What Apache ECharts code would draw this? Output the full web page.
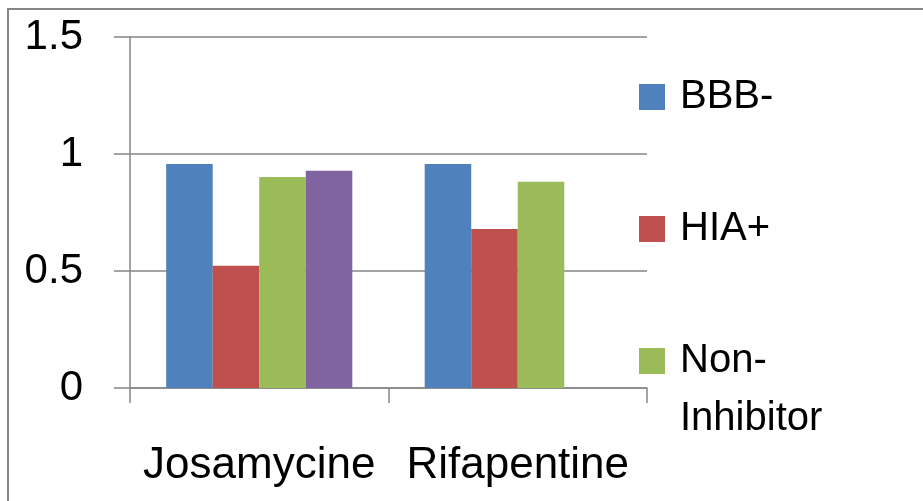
<!DOCTYPE html>
<html>
<head>
<meta charset="utf-8">
<script src="https://cdn.jsdelivr.net/npm/echarts@6/dist/echarts.min.js"></script>
<style>
  html, body { margin: 0; padding: 0; background: #fff; }
  #chart { width: 923px; height: 501px; }
</style>
</head>
<body>
<div id="chart"></div>
<script>
const categories = ['Josamycine', 'Rifapentine'];
const bbbMinus = [0.957, 0.957];
const hiaPlus = [0.522, 0.68];
const nonInhibitor = [0.902, 0.881];
const fourthSeries = [0.928, '-'];
const yTicks = { min: 0, max: 1.5, step: 0.5 };

const axisGrey = '#868686';
const font = 'Liberation Sans, Arial, sans-serif';

const chart = echarts.init(document.getElementById('chart'));

// one legend block per entry so they can be spaced like the original
function legendBlock(name, top, itemHeight, icon) {
  return {
    orient: 'vertical',
    left: 639,
    top: top,
    padding: 0,
    itemWidth: 26,
    itemHeight: itemHeight,
    textStyle: {
      fontFamily: font, fontSize: 40, color: '#000', lineHeight: 58,
      padding: [0, 0, 0, 10]
    },
    data: [{ name: name, icon: icon }]
  };
}

// square on top, empty space below, so the first text line sits beside it
const topSquare = 'path://M0,0L26,0L26,26L0,26Z M0,84L0,84Z';

const option = {
  animation: false,
  backgroundColor: '#fff',
  graphic: [
    {
      // chart frame
      type: 'rect',
      shape: { x: 8, y: 9, width: 1000, height: 1000 },
      style: { fill: 'none', stroke: axisGrey, lineWidth: 2 },
      silent: true
    }
  ],
  legend: [
    legendBlock('BBB-', 68, 26, 'rect'),
    legendBlock('HIA+', 200, 26, 'rect'),
    legendBlock('Non-\nInhibitor', 332, 84, topSquare)
  ],
  grid: { left: 130, top: 37, width: 517, height: 351 },
  xAxis: {
    type: 'category',
    data: categories,
    axisLine: { lineStyle: { color: axisGrey, width: 1.5 } },
    axisTick: { show: true, length: 15, interval: 0, lineStyle: { color: axisGrey, width: 1.5 } },
    axisLabel: { margin: 56, fontFamily: font, fontSize: 44, color: '#000', interval: 0 }
  },
  yAxis: {
    type: 'value',
    min: yTicks.min,
    max: yTicks.max,
    interval: yTicks.step,
    axisLine: { show: true, lineStyle: { color: axisGrey, width: 1.5 } },
    axisTick: { show: true, length: 16, lineStyle: { color: axisGrey, width: 1.5 } },
    splitLine: { lineStyle: { color: axisGrey, width: 1.5 } },
    axisLabel: { margin: 47, fontFamily: font, fontSize: 42, color: '#000' }
  },
  series: [
    { name: 'BBB-', type: 'bar', data: bbbMinus, itemStyle: { color: '#4F81BD' }, barGap: '0%', barCategoryGap: '28%' },
    { name: 'HIA+', type: 'bar', data: hiaPlus, itemStyle: { color: '#C0504D' } },
    { name: 'Non-\nInhibitor', type: 'bar', data: nonInhibitor, itemStyle: { color: '#9BBB59' } },
    { name: 'Series4', type: 'bar', data: fourthSeries, itemStyle: { color: '#8064A2' } }
  ]
};

chart.setOption(option);
</script>
</body>
</html>
